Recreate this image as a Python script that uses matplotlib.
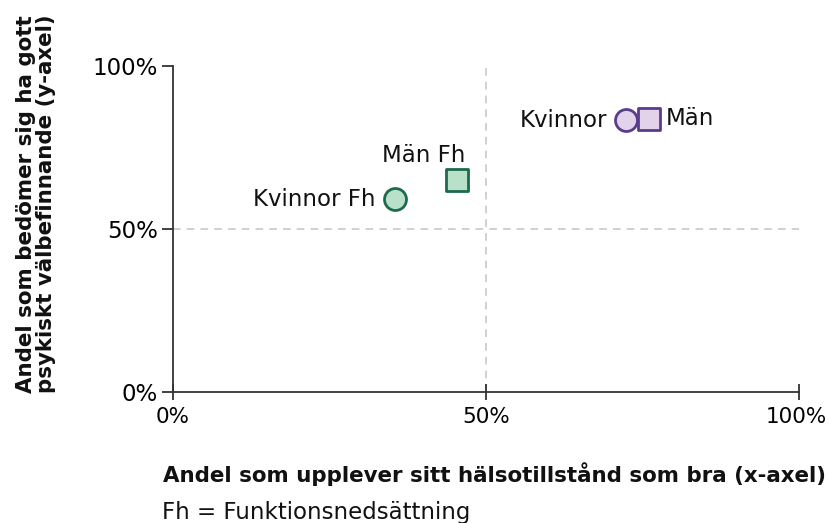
import matplotlib
matplotlib.use("Agg")
import matplotlib.pyplot as plt

labels = ["Kvinnor Fh", "Män Fh", "Kvinnor", "Män"]
x_vals = [35.5, 45.4, 72.3, 76.0]
y_vals = [59.2, 65.0, 83.4, 83.8]
markers = ["o", "s", "o", "s"]
fills = ["#b9e1c9", "#b9e1c9", "#e2d3ea", "#e2d3ea"]
edges = ["#1d6a4d", "#1d6a4d", "#5a3d8a", "#5a3d8a"]
ticks = [0, 50, 100]
tick_labels = ["0%", "50%", "100%"]

plt.rcParams['font.family'] = ['DejaVu Sans']

fig = plt.figure(figsize=(8.29, 5.23), dpi=100)
ax = fig.add_axes([173/829, 1-392/523, 626/829, 326/523])
ax.set_xlim(0, 100)
ax.set_ylim(0, 100)

ax.axvline(50, color="#c4c4c4", lw=1.1, ls=(0, (5, 4)), zorder=0)
ax.axhline(50, color="#c4c4c4", lw=1.1, ls=(0, (5, 4)), zorder=0)

for x, y, m, f, e in zip(x_vals, y_vals, markers, fills, edges):
    ax.scatter([x], [y], marker=m, s=250 if m == "o" else 230, facecolor=f,
               edgecolor=e, linewidth=2, zorder=3, clip_on=False)

fs = 16.5
ax.annotate(labels[0], (x_vals[0], y_vals[0]), xytext=(-14, 0), textcoords="offset points",
            ha="right", va="center", fontsize=fs, color="#111111")
ax.annotate(labels[1], (x_vals[1], y_vals[1]), xytext=(-24, 17.5), textcoords="offset points",
            ha="center", va="center", fontsize=fs, color="#111111")
ax.annotate(labels[2], (x_vals[2], y_vals[2]), xytext=(-13, 0), textcoords="offset points",
            ha="right", va="center", fontsize=fs, color="#111111")
ax.annotate(labels[3], (x_vals[3], y_vals[3]), xytext=(12, 0), textcoords="offset points",
            ha="left", va="center", fontsize=fs, color="#111111")

for s in ["top", "right"]:
    ax.spines[s].set_visible(False)
ax.spines["left"].set_color("#333333")
ax.spines["bottom"].set_color("#333333")
ax.spines["left"].set_linewidth(1.3)
ax.spines["bottom"].set_linewidth(1.3)

ax.set_xticks(ticks)
ax.set_xticklabels(tick_labels, fontsize=15.5)
ax.set_yticks(ticks)
ax.set_yticklabels(tick_labels, fontsize=fs)
ax.tick_params(axis="x", direction="inout", length=12, width=1.3, color="#333333", pad=5)
ax.tick_params(axis="y", direction="out", length=8, width=1.3, color="#333333", pad=3)
xl = ax.get_xticklabels()
xl[-1].set_horizontalalignment("right")
xl[-1].set_x(100)
import matplotlib.transforms as mtransforms
xl[-1].set_transform(xl[-1].get_transform() + mtransforms.ScaledTranslation(28/100, 0, fig.dpi_scale_trans))

fig.text(36/829, 1-204/523, "Andel som bedömer sig ha gott\npsykiskt välbefinnande (y-axel)",
         rotation=90, ha="center", va="center", fontsize=15.4, fontweight="bold",
         color="#111111", linespacing=1.0)
fig.text(163/829, 1-474/523, "Andel som upplever sitt hälsotillstånd som bra (x-axel)",
         ha="left", va="center", fontsize=15.4, fontweight="bold", color="#111111")
fig.text(162/829, 1-512/523, "Fh = Funktionsnedsättning",
         ha="left", va="center", fontsize=16.5, color="#111111")

fig.savefig("out.png", dpi=100)
